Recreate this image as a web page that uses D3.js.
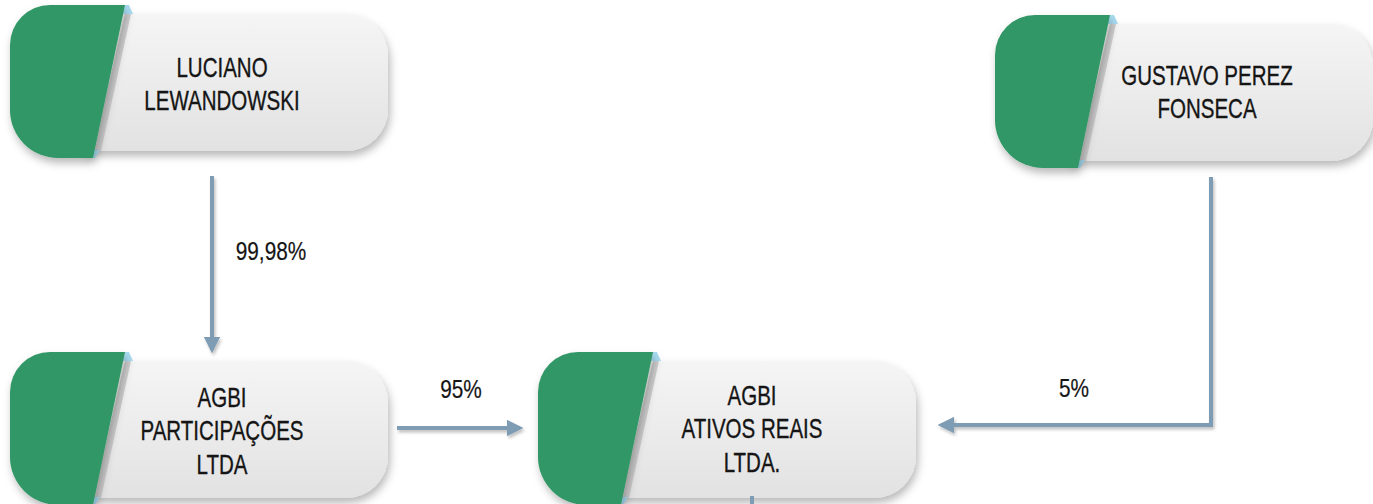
<!DOCTYPE html>
<html><head><meta charset="utf-8">
<script src="https://cdn.jsdelivr.net/npm/d3@7"></script>
<style>
html,body{margin:0;padding:0;background:#fff;}
svg{display:block;}
</style></head>
<body>
<script>
// ---- data ----
const entities = ["LUCIANO LEWANDOWSKI", "GUSTAVO PEREZ FONSECA", "AGBI PARTICIPAÇÕES LTDA", "AGBI ATIVOS REAIS LTDA."];
const entityLines = [["LUCIANO", "LEWANDOWSKI"], ["GUSTAVO PEREZ", "FONSECA"], ["AGBI", "PARTICIPAÇÕES", "LTDA"], ["AGBI", "ATIVOS REAIS", "LTDA."]];
const linkSources = [0, 2, 1];
const linkTargets = [2, 3, 3];
const linkShares = ["99,98%", "95%", "5%"];

// ---- layout (not data) ----
const W = 1373, H = 504;
const layout = [
  {gx: 10,  gy: 5,   tx: 222,  ty: 77},
  {gx: 995, gy: 15,  tx: 1207, ty: 85},
  {gx: 10,  gy: 352, tx: 222,  ty: 407},
  {gx: 538, gy: 352, tx: 752,  ty: 405}
];
const GW = 115, GH = 153, SLANT = 32;

const svg = d3.select("body").append("svg").attr("width", W).attr("height", H);
const defs = svg.append("defs");

const grad = defs.append("linearGradient").attr("id", "gray").attr("x1", 0).attr("y1", 0).attr("x2", 0).attr("y2", 1);
grad.append("stop").attr("offset", "0%").attr("stop-color", "#f5f5f5");
grad.append("stop").attr("offset", "100%").attr("stop-color", "#e2e2e2");

const sh = defs.append("filter").attr("id", "shadow").attr("x", "-20%").attr("y", "-20%").attr("width", "140%").attr("height", "150%");
sh.append("feDropShadow").attr("dx", 2).attr("dy", 5).attr("stdDeviation", 4).attr("flood-color", "#000").attr("flood-opacity", 0.28);

const ash = defs.append("filter").attr("id", "ashadow").attr("filterUnits", "userSpaceOnUse")
  .attr("x", 0).attr("y", 0).attr("width", W).attr("height", H);
ash.append("feDropShadow").attr("dx", 1.5).attr("dy", 2.5).attr("stdDeviation", 1.5).attr("flood-color", "#000").attr("flood-opacity", 0.25);

defs.append("marker").attr("id", "arrow").attr("viewBox", "0 0 10 10").attr("refX", 8).attr("refY", 5)
  .attr("markerWidth", 4.2).attr("markerHeight", 4.2).attr("orient", "auto").attr("markerUnits", "strokeWidth")
  .append("path").attr("d", "M0,0 L10,5 L0,10 z").attr("fill", "#7f9cb5");

const FONT = "'Liberation Sans', Arial, sans-serif";

// ---- nodes ----
entities.forEach((name, i) => {
  const L = layout[i];
  const g = svg.append("g");
  const gx = L.gx, gy = L.gy;
  const bx0 = gx + GW - SLANT - 10, by0 = gy + 9, bx1 = gx + 378, by1 = gy + 146;
  const r = 42;
  g.append("path")
    .attr("d", `M${bx0},${by0} H${bx1 - r} A${r},${r} 0 0 1 ${bx1},${by0 + r} V${by1 - r} A${r},${r} 0 0 1 ${bx1 - r},${by1} H${bx0} Z`)
    .attr("fill", "url(#gray)").attr("filter", "url(#shadow)");
  g.append("path")
    .attr("d", `M${gx + GW},${by0} L${gx + GW + 6},${by0} L${gx + GW - SLANT + 8},${by1} L${gx + GW - SLANT},${by1} Z`)
    .attr("fill", "#c4c4c4").attr("opacity", 0.8);
  g.append("path").attr("d", `M${gx + GW - 2},${gy} L${gx + GW + 4},${gy} L${gx + GW + 8},${by0} L${gx + GW - 4},${by0} Z`).attr("fill", "#a9dcf2");
  g.append("path").attr("d", `M${gx + GW - SLANT},${gy + GH - 8} L${gx + GW - SLANT + 7},${gy + GH - 8} L${gx + GW - SLANT + 2},${gy + GH} L${gx + GW - SLANT - 2},${gy + GH} Z`).attr("fill", "#a9dcf2");
  const rt = 40, rb = 48;
  g.append("path")
    .attr("d", `M${gx + rt},${gy} L${gx + GW},${gy} L${gx + GW - SLANT},${gy + GH} L${gx + rb},${gy + GH} A${rb},${rb} 0 0 1 ${gx},${gy + GH - rb} L${gx},${gy + rt} A${rt},${rt} 0 0 1 ${gx + rt},${gy} Z`)
    .attr("fill", "#339766").attr("filter", "url(#shadow)");
  const tg = g.append("g").attr("transform", `translate(${L.tx},${L.ty}) scale(0.76,1)`);
  const t = tg.append("text").attr("font-family", FONT).attr("font-size", 27).attr("fill", "#151515")
    .attr("stroke", "#151515").attr("stroke-width", 0.35).attr("text-anchor", "middle");
  entityLines[i].forEach((ln, k) => {
    t.append("tspan").attr("x", 0).attr("y", k * 33.5).text(ln);
  });
});

// ---- links ----
const linkPaths = [
  {pts: [[212, 176], [212, 350]], lx: 271, ly: 260},
  {pts: [[397, 428], [520, 428]], lx: 461, ly: 398},
  {pts: [[1211, 177], [1211, 425], [941, 425]], lx: 1074, ly: 397}
];
const line = d3.line();
linkShares.forEach((s, i) => {
  const P = linkPaths[i];
  svg.append("path").attr("d", line(P.pts)).attr("fill", "none").attr("stroke", "#7f9cb5")
    .attr("stroke-width", 4).attr("marker-end", "url(#arrow)").attr("filter", "url(#ashadow)");
  svg.append("g").attr("transform", `translate(${P.lx},${P.ly}) scale(0.8,1)`)
    .append("text").attr("text-anchor", "middle")
    .attr("font-family", FONT).attr("font-size", 26).attr("fill", "#151515")
    .attr("stroke", "#151515").attr("stroke-width", 0.2).text(s);
});
svg.append("path").attr("d", line([[752, 496], [752, 504]])).attr("stroke", "#7f9cb5").attr("stroke-width", 4);
</script>
</body></html>
